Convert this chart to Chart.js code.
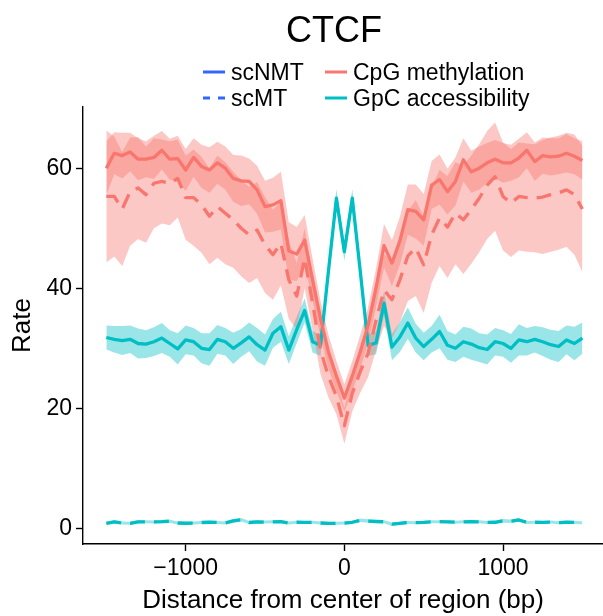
<!DOCTYPE html>
<html>
<head>
<meta charset="utf-8">
<script src="https://cdn.jsdelivr.net/npm/chart.js@4"></script>
<style>
  html, body { margin: 0; padding: 0; background: #fff; overflow: hidden; }
  #wrap { width: 603px; height: 616px; }
</style>
</head>
<body>
<div id="wrap"><canvas id="ctcf-chart" width="603" height="616"></canvas></div>
<script>
// Average methylation / accessibility profile around CTCF sites.

const positions = [
  -1500, -1450, -1400, -1350, -1300, -1250, -1200, -1150, -1100, -1050,
  -1000, -950, -900, -850, -800, -750, -700, -650, -600, -550,
  -500, -450, -400, -350, -300, -250, -200, -150, -100, -50,
  0, 50, 100, 150, 200, 250, 300, 350, 400, 450,
  500, 550, 600, 650, 700, 750, 800, 850, 900, 950,
  1000, 1050, 1100, 1150, 1200, 1250, 1300, 1350, 1400, 1450, 1500,
];

// scNMT, CpG methylation (mean and ribbon half-width)
const nmtCpg = [
  60.1, 62.6, 62.2, 62.8, 61.6, 61.6, 61.9, 63.1, 61.6, 61.7,
  59.8, 61.9, 60.4, 59.8, 61.0, 60.1, 58.4, 58.0, 57.9, 56.5,
  53.7, 54.0, 54.7, 46.3, 45.8, 48.1, 41.5, 35.0, 29.5, 25.5,
  21.8, 25.5, 29.5, 34.0, 40.2, 47.2, 44.3, 48.0, 53.2, 52.9,
  51.5, 57.3, 58.2, 56.2, 57.9, 61.5, 59.5, 60.1, 61.0, 61.6,
  61.0, 61.0, 61.8, 63.1, 61.2, 62.2, 62.0, 62.1, 62.6, 62.1, 61.4,
];
const nmtCpgErr = [
  4.5, 3.5, 3.8, 3.2, 3.5, 3.0, 3.6, 3.2, 3.4, 3.8,
  3.5, 3.2, 3.6, 3.8, 3.5, 3.6, 3.9, 4.2, 3.8, 4.0,
  4.3, 4.5, 4.8, 4.8, 4.5, 4.2, 3.5, 3.0, 2.8, 2.5,
  2.3, 2.5, 2.8, 3.0, 3.2, 3.6, 3.8, 4.0, 4.2, 4.5,
  4.3, 4.0, 4.2, 3.8, 4.0, 3.6, 3.5, 3.6, 3.3, 3.2,
  3.3, 3.0, 3.2, 3.0, 3.2, 3.0, 3.1, 3.0, 3.2, 3.0, 3.2,
];

// scMT, CpG methylation
const mtCpg = [
  55.4, 55.4, 53.3, 56.2, 56.8, 55.7, 57.6, 57.9, 57.6, 58.4,
  55.2, 55.2, 54.0, 52.1, 53.7, 52.6, 51.5, 50.1, 49.0, 49.8,
  47.3, 45.7, 47.6, 41.5, 38.8, 45.1, 37.6, 29.8, 25.4, 22.1,
  17.2, 22.6, 26.2, 29.3, 34.8, 39.8, 38.2, 41.5, 45.5, 46.8,
  44.0, 49.0, 51.8, 50.3, 52.6, 51.5, 53.2, 55.1, 57.3, 58.7,
  55.4, 54.3, 55.4, 55.2, 55.1, 55.3, 55.7, 56.0, 56.5, 55.7, 53.3,
];
const mtCpgErr = [
  11.0, 10.0, 9.5, 9.0, 8.5, 8.0, 7.5, 7.0, 7.0, 6.5,
  7.0, 8.0, 8.0, 8.0, 8.5, 8.5, 8.0, 8.0, 8.0, 8.0,
  8.0, 7.5, 7.0, 6.5, 5.5, 5.0, 4.5, 4.0, 3.5, 3.0,
  3.0, 3.0, 3.5, 4.0, 5.0, 6.0, 6.5, 7.0, 7.5, 8.0,
  8.0, 8.0, 8.0, 8.5, 8.5, 9.0, 9.0, 9.0, 9.0, 9.0,
  9.0, 9.0, 9.0, 9.0, 9.0, 9.5, 9.5, 9.5, 9.5, 10.0, 10.5,
];

// scNMT, GpC accessibility
const nmtGpc = [
  31.9, 31.6, 31.4, 31.6, 30.9, 30.8, 31.2, 31.8, 30.9, 30.0,
  31.5, 31.2, 30.1, 29.9, 31.6, 31.2, 30.1, 31.0, 32.0, 30.7,
  29.8, 32.6, 33.7, 29.8, 33.2, 36.4, 31.2, 30.6, 43.0, 55.1,
  46.2, 55.1, 43.0, 30.6, 31.0, 37.6, 30.3, 32.0, 34.3, 31.8,
  30.4, 31.6, 32.9, 30.6, 30.1, 31.2, 30.8, 30.2, 29.9, 31.2,
  30.9, 30.1, 31.5, 31.2, 31.6, 31.2, 30.7, 30.4, 31.5, 30.9, 31.8,
];
const nmtGpcErr = [
  2.0, 2.2, 2.4, 2.3, 2.5, 2.3, 2.4, 2.5, 2.2, 2.6,
  2.4, 2.3, 2.5, 2.7, 2.4, 2.3, 2.6, 2.3, 2.4, 2.8,
  2.6, 2.4, 2.5, 2.3, 2.2, 2.0, 1.8, 1.8, 1.6, 1.5,
  1.5, 1.5, 1.6, 1.8, 1.9, 2.0, 2.2, 2.5, 2.6, 2.4,
  2.3, 2.2, 2.8, 2.4, 2.3, 2.5, 2.6, 2.4, 2.5, 2.3,
  2.2, 2.4, 2.6, 2.3, 2.2, 2.4, 2.5, 2.6, 2.4, 2.8, 2.6,
];

// scMT, GpC accessibility (no GpC signal in scMT)
const mtGpc = [
  0.94, 1.20, 0.98, 0.94, 1.20, 1.20, 1.18, 1.22, 1.30, 1.00,
  0.96, 0.98, 1.08, 1.12, 1.10, 1.00, 1.35, 1.55, 1.08, 1.20,
  1.15, 1.20, 1.22, 0.98, 1.12, 1.10, 1.12, 1.00, 0.95, 0.94,
  0.98, 1.12, 1.45, 1.32, 1.25, 1.20, 0.80, 0.95, 1.10, 1.05,
  1.10, 1.20, 1.22, 1.20, 1.12, 1.20, 1.22, 1.20, 1.10, 1.12,
  1.35, 1.30, 1.50, 1.10, 1.12, 1.10, 1.15, 1.05, 1.12, 1.10, 1.05,
];
const mtGpcErr = [
  0.25, 0.25, 0.25, 0.25, 0.25, 0.25, 0.25, 0.25, 0.25, 0.25,
  0.25, 0.25, 0.25, 0.25, 0.25, 0.25, 0.30, 0.30, 0.25, 0.25,
  0.25, 0.25, 0.25, 0.25, 0.25, 0.25, 0.25, 0.25, 0.25, 0.25,
  0.25, 0.25, 0.30, 0.30, 0.25, 0.25, 0.30, 0.25, 0.25, 0.25,
  0.25, 0.25, 0.25, 0.25, 0.25, 0.25, 0.25, 0.25, 0.25, 0.25,
  0.30, 0.30, 0.30, 0.25, 0.25, 0.25, 0.25, 0.25, 0.25, 0.25, 0.25,
];

const xTicks = [-1000, 0, 1000];
const yTicks = [0, 20, 40, 60];

const RED = "#F8766D";
const TEAL = "#00BFC4";
const BLUE = "#3366FF";
const RED_FILL = "rgba(248, 118, 109, 0.4)";
const TEAL_FILL = "rgba(0, 191, 196, 0.4)";

const FONT = "'Liberation Sans', Arial, Helvetica, sans-serif";
Chart.defaults.font.family = FONT;
Chart.defaults.color = "#000";

function pts(values) {
  return positions.map((x, i) => ({ x: x, y: values[i] }));
}
function band(values, err, sign) {
  return positions.map((x, i) => ({ x: x, y: values[i] + sign * err[i] }));
}

const series = [
  { mean: nmtCpg, err: nmtCpgErr, color: RED, fill: RED_FILL, dash: [] },
  { mean: mtCpg, err: mtCpgErr, color: RED, fill: RED_FILL, dash: [15, 9] },
  { mean: nmtGpc, err: nmtGpcErr, color: TEAL, fill: TEAL_FILL, dash: [] },
  { mean: mtGpc, err: mtGpcErr, color: TEAL, fill: TEAL_FILL, dash: [15, 9] },
];

// lines come first so they are painted over the ribbons
const datasets = [];
series.forEach((s) => {
  datasets.push({
    data: pts(s.mean),
    borderColor: s.color,
    borderWidth: 3.3,
    borderDash: s.dash,
    borderJoinStyle: "round",
    pointRadius: 0,
    tension: 0,
    fill: false,
  });
});
series.forEach((s) => {
  const lowIdx = datasets.length;
  datasets.push({
    data: band(s.mean, s.err, -1),
    borderWidth: 0,
    borderColor: "rgba(0,0,0,0)",
    pointRadius: 0,
    fill: false,
  });
  datasets.push({
    data: band(s.mean, s.err, 1),
    borderWidth: 0,
    borderColor: "rgba(0,0,0,0)",
    backgroundColor: s.fill,
    pointRadius: 0,
    fill: lowIdx,
  });
});

// title and two-column key above the panel
const headerPlugin = {
  id: "header",
  afterDraw(chart) {
    const ctx = chart.ctx;
    ctx.save();
    ctx.fillStyle = "#000";
    ctx.textBaseline = "alphabetic";
    ctx.textAlign = "center";
    ctx.font = "36px " + FONT;
    ctx.fillText("CTCF", 334, 42);

    ctx.font = "23px " + FONT;
    ctx.textAlign = "left";
    const keys = [
      { label: "scNMT", color: BLUE, dash: [], x: 203, y: 72 },
      { label: "scMT", color: BLUE, dash: [7, 8], x: 203, y: 98 },
      { label: "CpG methylation", color: RED, dash: [], x: 325, y: 72 },
      { label: "GpC accessibility", color: TEAL, dash: [], x: 325, y: 98 },
    ];
    keys.forEach((k) => {
      ctx.strokeStyle = k.color;
      ctx.lineWidth = 3;
      ctx.setLineDash(k.dash);
      ctx.beginPath();
      ctx.moveTo(k.x, k.y);
      ctx.lineTo(k.x + 22, k.y);
      ctx.stroke();
      ctx.fillText(k.label, k.x + 28, k.y + 8);
    });
    ctx.restore();
  },
};

new Chart(document.getElementById("ctcf-chart"), {
  type: "line",
  data: { datasets: datasets },
  plugins: [headerPlugin],
  options: {
    responsive: false,
    animation: false,
    layout: { padding: { top: 107, left: 0, right: 0, bottom: 0 } },
    plugins: {
      legend: { display: false },
      title: { display: false },
      tooltip: { enabled: false },
    },
    scales: {
      x: {
        type: "linear",
        min: -1647,
        max: 1630,
        afterFit: (scale) => { scale.height = 72; },
        afterBuildTicks: (scale) => { scale.ticks = xTicks.map((v) => ({ value: v })); },
        ticks: {
          padding: 4,
          font: { size: 23 },
          color: "#000",
          callback: (v) => (v < 0 ? "\u2212" + Math.abs(v) : String(v)),
        },
        grid: { drawOnChartArea: false, tickLength: 7, tickColor: "#000", tickWidth: 1.4 },
        border: { color: "#000", width: 1.4 },
        title: {
          display: true,
          text: "Distance from center of region (bp)",
          font: { size: 26 },
          color: "#000",
          padding: { top: 0, bottom: 0 },
        },
      },
      y: {
        min: -2.5,
        max: 70.3,
        afterFit: (scale) => { scale.width = 83; },
        afterBuildTicks: (scale) => { scale.ticks = yTicks.map((v) => ({ value: v })); },
        ticks: { padding: 4, font: { size: 23 }, color: "#000" },
        grid: { drawOnChartArea: false, tickLength: 7, tickColor: "#000", tickWidth: 1.4 },
        border: { color: "#000", width: 1.4 },
        title: {
          display: true,
          text: "Rate",
          font: { size: 26 },
          color: "#000",
          padding: { top: 7, bottom: 0 },
        },
      },
    },
  },
});
</script>
</body>
</html>
